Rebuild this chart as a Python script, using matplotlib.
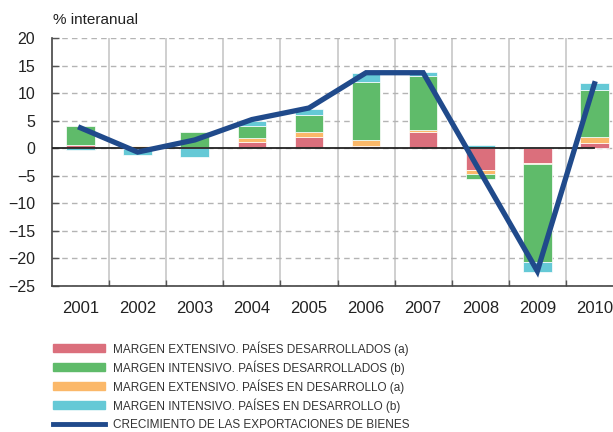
import matplotlib.pyplot as plt
import numpy as np
from matplotlib.patches import Rectangle
from matplotlib.lines import Line2D

# data (% interanual)
years = ['2001', '2002', '2003', '2004', '2005', '2006', '2007', '2008', '2009', '2010']
ext_desarrollados = [0.5, 0.0, 0.3, 1.15, 2.05, 0.4, 2.95, -4.0, -2.6, 1.0]
int_desarrollados = [3.5, -0.2, 2.65, 2.2, 3.1, 10.45, 9.85, -0.9, -17.8, 8.6]
ext_en_desarrollo = [0.0, 0.4, 0.0, 0.65, 0.85, 1.15, 0.3, -0.7, -0.3, 1.0]
int_en_desarrollo = [-0.25, -1.0, -1.55, 1.0, 1.2, 1.7, 0.65, 0.65, -1.8, 1.3]
crecimiento = [3.7, -0.7, 1.5, 5.2, 7.3, 13.7, 13.7, -4.3, -22.3, 11.7]

series = [ext_desarrollados, ext_en_desarrollo, int_desarrollados, int_en_desarrollo]
colors = ['#db6f7c', '#fbb869', '#5fbb6a', '#65c9d6']
labels = ['MARGEN EXTENSIVO. PAÍSES DESARROLLADOS (a)',
          'MARGEN INTENSIVO. PAÍSES DESARROLLADOS (b)',
          'MARGEN EXTENSIVO. PAÍSES EN DESARROLLO (a)',
          'MARGEN INTENSIVO. PAÍSES EN DESARROLLO (b)',
          'CRECIMIENTO DE LAS EXPORTACIONES DE BIENES']
legend_colors = ['#db6f7c', '#5fbb6a', '#fbb869', '#65c9d6', '#204a8b']

plt.rcParams['font.family'] = ['Liberation Sans', 'DejaVu Sans']

fig = plt.figure(figsize=(6.13, 4.32), dpi=100)
ax = fig.add_axes([52 / 613, 1 - 286 / 432, 571 / 613, 248 / 432])

x = np.arange(len(years))
pos_bottom = np.zeros(len(years))
neg_bottom = np.zeros(len(years))
for vals, col in zip(series, colors):
    v = np.array(vals)
    b = np.where(v >= 0, pos_bottom, neg_bottom)
    ax.bar(x, v, 0.5, bottom=b, color=col, edgecolor='white', linewidth=0.5, zorder=2)
    pos_bottom += np.clip(v, 0, None)
    neg_bottom += np.clip(v, None, 0)

ax.axhline(0, xmin=0, xmax=0.95, color='#222222', lw=1.3, zorder=3)
ax.plot(x, crecimiento, color='#204a8b', lw=3.8, solid_joinstyle='miter', zorder=4)

ax.set_xlim(-0.5, 9.5)
ax.set_ylim(-25, 20)
ax.set_yticks(np.arange(-25, 21, 5))
ax.set_xticks(x)
ax.set_xticklabels(years)
ax.set_xticks(np.arange(0.5, 9.5, 1), minor=True)

ax.yaxis.grid(True, color='#b4b4b4', ls=(0, (4, 3)), lw=1.0, zorder=0)
for xb in np.arange(0.5, 10, 1):
    ax.axvline(xb, color='#cccccc', lw=1.3, zorder=0)

ax.tick_params(axis='x', which='major', length=0, labelsize=12, pad=11, colors='#222222')
ax.tick_params(axis='x', which='minor', direction='in', length=4, width=1, color='#555555')
ax.tick_params(axis='y', direction='in', length=5, width=1, color='#555555',
               labelsize=11.5, pad=12, labelcolor='#222222')

for s in ['top', 'right']:
    ax.spines[s].set_visible(False)
for s in ['left', 'bottom']:
    ax.spines[s].set_color('#444444')
    ax.spines[s].set_linewidth(1.2)

fig.text(53 / 613, 1 - 20 / 432, '% interanual', fontsize=11, va='center', ha='left', color='#222222')

# legend
leg_y = [348, 367, 386, 405, 424]
for yy, lab, col in zip(leg_y, labels, legend_colors):
    yf = 1 - yy / 432
    if col == '#204a8b':
        fig.add_artist(Line2D([53 / 613, 105 / 613], [yf, yf], color=col, lw=3.5))
    else:
        fig.add_artist(Rectangle((53 / 613, yf - 4.3 / 432), 52 / 613, 8.6 / 432,
                                 transform=fig.transFigure, color=col))
    fig.text(113 / 613, yf - 1 / 432, lab, fontsize=8.5, va='center', ha='left', color='#333333')

fig.savefig('out.png', dpi=100)
